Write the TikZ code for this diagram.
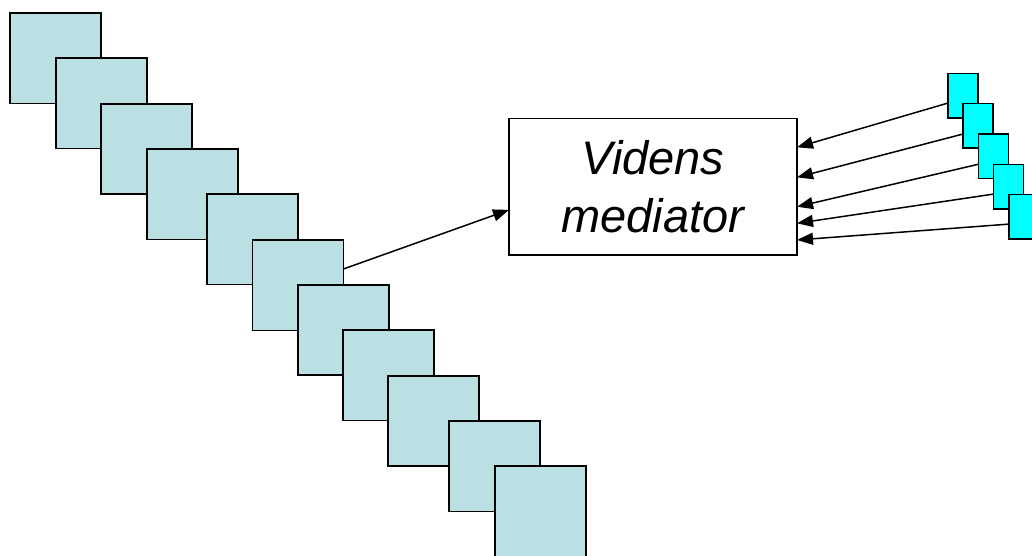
\documentclass[tikz,border=0pt]{standalone}
\usepackage{fontspec}
\setmainfont{Liberation Sans}
\usetikzlibrary{arrows.meta,calc}
\definecolor{paleblue}{HTML}{BBE0E3}
\definecolor{brightcyan}{HTML}{00FFFF}
\begin{document}
\begin{tikzpicture}[x=1pt,y=-1pt,
  bigsq/.style={draw=black,line width=1.8pt,fill=paleblue,minimum width=91pt,minimum height=90.5pt,inner sep=0pt,outer sep=0pt,anchor=north west},
  smallsq/.style={draw=black,line width=1.6pt,fill=brightcyan,minimum width=30pt,minimum height=44.5pt,inner sep=0pt,outer sep=0pt,anchor=north west},
  medbox/.style={draw=black,line width=1.6pt,fill=white,minimum width=288pt,minimum height=136.7pt,inner sep=0pt,outer sep=0pt,anchor=north west,align=center,font=\fontsize{47}{58}\selectfont\itshape},
  arr/.style={draw=black,line width=1.5pt,-{Triangle[length=16pt,width=12pt]}}]
\useasboundingbox (0,0) rectangle (1032,555);
\clip (0,0) rectangle (1032,555);
% left stack
\node[bigsq] (L1) at (10,13) {};
\node[bigsq] (L2) at (55.7,58) {};
\node[bigsq] (L3) at (101,103.7) {};
\node[bigsq] (L4) at (146.7,149) {};
\node[bigsq] (L5) at (207.3,194) {};
\node[bigsq] (L6) at (252.5,240) {};
\node[bigsq] (L7) at (297.7,284.7) {};
\node[bigsq] (L8) at (343,330) {};
\node[bigsq] (L9) at (388.3,375.7) {};
\node[bigsq] (L10) at (448.7,421) {};
\node[bigsq] (L11) at (494.7,466.3) {};
% mediator
\node[medbox] (med) at (509,118.3) {Videns\\mediator};
% right stack
\node[smallsq] (S1) at (947.7,73.3) {};
\node[smallsq] (S2) at (963,103.3) {};
\node[smallsq] (S3) at (978.3,134) {};
\node[smallsq] (S4) at (993.3,164.3) {};
\node[smallsq] (S5) at (1008.7,194.3) {};
% connectors
\draw[arr] ($(L6.north east)!0.32!(L6.south east)$) -- ($(med.north west)!0.67!(med.south west)$);
\draw[arr] ($(S1.north west)!0.67!(S1.south west)$) -- ($(med.north east)!0.212!(med.south east)$);
\draw[arr] ($(S2.north west)!0.69!(S2.south west)$) -- ($(med.north east)!0.432!(med.south east)$);
\draw[arr] ($(S3.north west)!0.68!(S3.south west)$) -- ($(med.north east)!0.647!(med.south east)$);
\draw[arr] ($(S4.north west)!0.67!(S4.south west)$) -- ($(med.north east)!0.768!(med.south east)$);
\draw[arr] ($(S5.north west)!0.67!(S5.south west)$) -- ($(med.north east)!0.89!(med.south east)$);
\end{tikzpicture}
\end{document}
